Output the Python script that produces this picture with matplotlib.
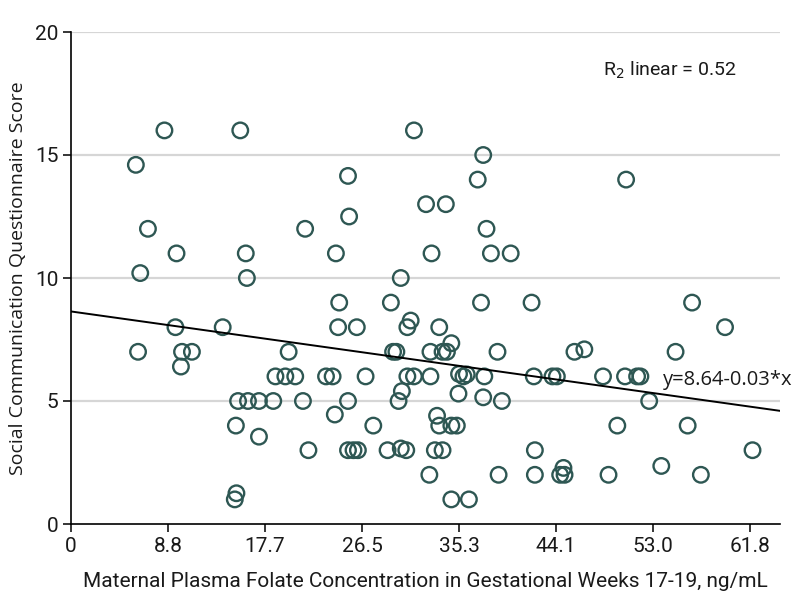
import matplotlib
matplotlib.use("Agg")
import matplotlib.pyplot as plt
from matplotlib import font_manager

# ---- data ----
folate = [8.5, 15.4, 5.9, 7.0, 21.3, 9.6, 15.9, 6.3, 16.0,
          31.2, 37.5, 25.2, 37.0, 32.3, 34.1, 25.3, 37.8, 24.1, 32.8, 38.2, 40.0,
          30.0, 24.4, 29.1, 37.3, 41.9, 50.5, 56.5,
          9.5, 13.8, 6.1, 10.1, 11.0, 10.0, 19.8, 18.6, 19.5, 20.4,
          15.2, 16.1, 17.1, 18.4, 21.1, 15.0, 17.1, 21.6, 15.05, 14.9,
          24.3, 26.0, 30.9, 30.6, 33.5, 34.6, 29.3, 29.6, 32.7, 33.8, 34.2, 38.8,
          23.2, 23.8, 26.8, 30.6, 31.2, 32.7, 35.3, 35.7, 36.0, 37.6, 42.1,
          30.1, 25.2, 29.8, 35.25, 37.5, 39.2, 24.0, 27.5, 33.3, 33.5, 34.6, 35.1,
          25.2, 25.7, 26.1, 28.8, 30.0, 30.5, 33.1, 33.8, 42.2,
          32.6, 38.9, 42.2, 34.6, 36.2,
          59.5, 45.8, 46.7, 55.0, 43.8, 44.2, 48.4, 50.4, 51.5, 51.8,
          52.6, 49.7, 56.1, 62.0, 44.8, 53.7, 44.5, 44.9, 48.9, 57.3]
scq = [16, 16, 14.6, 12, 12, 11, 11, 10.2, 10,
       16, 15, 14.15, 14, 13, 13, 12.5, 12, 11, 11, 11, 11,
       10, 9, 9, 9, 9, 14, 9,
       8, 8, 7, 7, 7, 6.4, 7, 6, 6, 6,
       5, 5, 5, 5, 5, 4, 3.55, 3, 1.25, 1.0,
       8, 8, 8.27, 8, 8, 7.35, 7, 7, 7, 7, 7, 7,
       6, 6, 6, 6, 6, 6, 6.1, 6, 6.08, 6, 6,
       5.4, 5, 5, 5.3, 5.15, 5, 4.45, 4, 4.4, 4, 4, 4,
       3, 3, 3, 3, 3.07, 3, 3, 3, 3,
       2, 2, 2, 1, 1,
       8, 7, 7.1, 7, 6, 6, 6, 6, 6, 6,
       5, 4, 4, 3, 2.28, 2.36, 2, 2, 2, 2]

fit_x = [0, 64.5]
fit_y = [8.64, 4.60]

x_ticks = [0, 8.8286, 17.657, 26.486, 35.314, 44.143, 52.971, 61.8]
x_tick_labels = ["0", "8.8", "17.7", "26.5", "35.3", "44.1", "53.0", "61.8"]
y_ticks = [0, 5, 10, 15, 20]

installed = {f.name for f in font_manager.fontManager.ttflist}
cond = "Liberation Sans Narrow" if "Liberation Sans Narrow" in installed else "Roboto"
cond_fam = [cond, "DejaVu Sans"]
lab_fam = ["Open Sans", "DejaVu Sans"]

fig = plt.figure(figsize=(7.98, 6.09), dpi=100)
ax = fig.add_axes([71 / 798, 1 - 524 / 609, (780 - 71) / 798, (524 - 32) / 609])

ax.set_xlim(0, 64.5)
ax.set_ylim(0, 20)

for yv in y_ticks[1:]:
    ax.axhline(yv, color="#d6d6d6", lw=1.6, zorder=0)

ax.scatter(folate, scq, s=125, facecolors="none", edgecolors="#2e5753",
           linewidths=1.7, zorder=3, clip_on=False)
ax.plot(fit_x, fit_y, color="black", lw=1.4, zorder=4)

ax.set_xticks(x_ticks)
ax.set_xticklabels(x_tick_labels)
ax.set_yticks(y_ticks)
for lab in ax.get_xticklabels() + ax.get_yticklabels():
    lab.set_family(cond_fam)
    lab.set_fontsize(15)
    lab.set_color("#1a1a1a")
ax.tick_params(axis="both", direction="out", length=6, width=1.1, color="black", pad=3)

for s in ["top", "right"]:
    ax.spines[s].set_visible(False)
for s in ["left", "bottom"]:
    ax.spines[s].set_linewidth(1.2)
    ax.spines[s].set_color("black")

ax.set_xlabel("Maternal Plasma Folate Concentration in Gestational Weeks 17-19, ng/mL",
              family=cond_fam, fontsize=15, color="#1a1a1a", labelpad=12)
ax.set_ylabel("Social Communication Questionnaire Score",
              family=lab_fam, fontsize=14, color="#1a1a1a", labelpad=6)

ax.text(603 / 798, 1 - 70 / 609, r"R$_2$ linear = 0.52", transform=fig.transFigure,
        family=cond_fam, fontsize=14, color="#1a1a1a", va="center", ha="left")
ax.text(663 / 798, 1 - 380 / 609, "y=8.64-0.03*x", transform=fig.transFigure,
        family=lab_fam, fontsize=14.5, color="#1a1a1a", va="center", ha="left")

fig.savefig("out.png", dpi=100)
